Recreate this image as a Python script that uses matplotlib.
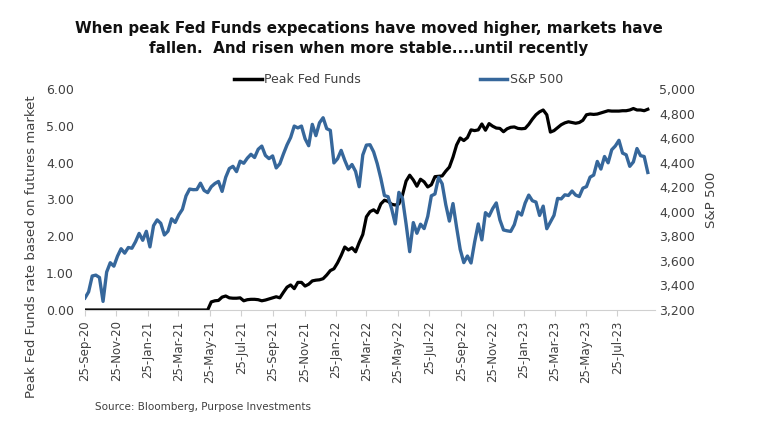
import matplotlib
matplotlib.use("Agg")
import matplotlib.pyplot as plt
import matplotlib.dates as mdates
from matplotlib.lines import Line2D
import pandas as pd

# weekly observations, Fridays starting 25-Sep-2020
start_date = "2020-09-25"

spx = [
    # 2020
    3298, 3348, 3477, 3484, 3465, 3270, 3509, 3585, 3557, 3638, 3699, 3663, 3709, 3703, 3756,
    # 2021
    3824, 3768, 3841, 3714, 3887, 3934, 3906, 3811, 3842, 3943, 3913, 3975, 4020, 4129, 4185,
    4180, 4181, 4233, 4174, 4156, 4204, 4230, 4247, 4166, 4281, 4352, 4370, 4327, 4412, 4395,
    4437, 4468, 4442, 4509, 4535, 4459, 4433, 4455, 4357, 4391, 4471, 4545, 4605, 4698, 4683,
    4698, 4595, 4538, 4712, 4620, 4725, 4766,
    # 2022
    4677, 4663, 4398, 4432, 4500, 4419, 4349, 4385, 4329, 4204, 4463, 4543, 4546, 4488, 4392,
    4272, 4132, 4123, 4024, 3901, 4158, 4109, 3901, 3675, 3912, 3825, 3899, 3863, 3962, 4130,
    4145, 4280, 4228, 4058, 3924, 4067, 3873, 3693, 3586, 3640, 3583, 3753, 3901, 3771, 3993,
    3965, 4026, 4072, 3934, 3852, 3845, 3840,
    # 2023
    3895, 3999, 3973, 4071, 4136, 4090, 4079, 3970, 4046, 3862, 3917, 3971, 4109, 4105, 4138,
    4133, 4169, 4136, 4124, 4192, 4205, 4282, 4299, 4410, 4348, 4450, 4399, 4505, 4536, 4582,
    4478, 4464, 4370, 4406, 4515, 4457, 4450, 4320,
]

peak_ff = [
    0.00, 0.00, 0.00, 0.00, 0.00, 0.00, 0.00, 0.00, 0.00, 0.00,
    0.00, 0.00, 0.00, 0.00, 0.00, 0.00, 0.00, 0.00, 0.00, 0.00,
    0.00, 0.00, 0.00, 0.00, 0.00, 0.00, 0.00, 0.00, 0.00, 0.00,
    0.00, 0.00, 0.00, 0.00, 0.00, 0.22, 0.25, 0.26, 0.35, 0.38,
    0.33, 0.32, 0.32, 0.33, 0.25, 0.28, 0.29, 0.29, 0.28, 0.25,
    0.27, 0.30, 0.33, 0.36, 0.33, 0.48, 0.62, 0.68, 0.58, 0.75,
    0.75, 0.65, 0.70, 0.79, 0.81, 0.82, 0.85, 0.95, 1.07, 1.12,
    1.28, 1.48, 1.71, 1.63, 1.69, 1.58, 1.83, 2.05, 2.53, 2.67,
    2.72, 2.64, 2.88, 2.98, 2.95, 2.87, 2.85, 2.88, 3.12, 3.50,
    3.66, 3.53, 3.36, 3.55, 3.48, 3.34, 3.40, 3.62, 3.63, 3.64,
    3.77, 3.88, 4.15, 4.48, 4.67, 4.60, 4.68, 4.89, 4.87, 4.89,
    5.05, 4.88, 5.06, 4.99, 4.94, 4.93, 4.84, 4.92, 4.96, 4.97,
    4.93, 4.92, 4.93, 5.04, 5.18, 5.30, 5.38, 5.43, 5.30, 4.83,
    4.87, 4.95, 5.03, 5.08, 5.11, 5.09, 5.07, 5.09, 5.15, 5.30,
    5.32, 5.31, 5.32, 5.35, 5.38, 5.41, 5.40, 5.40, 5.40, 5.41,
    5.41, 5.43, 5.47, 5.43, 5.43, 5.41, 5.45,
]

dates = pd.date_range(start_date, periods=len(spx), freq="7D")

left_ticks = [0, 1, 2, 3, 4, 5, 6]
right_ticks = [3200, 3400, 3600, 3800, 4000, 4200, 4400, 4600, 4800, 5000]
# the 25th of every other month, Sep-20 .. Jul-23
xtick_dates = pd.date_range("2020-09-01", "2023-07-01", freq="2MS") + pd.Timedelta(days=24)

title = ("When peak Fed Funds expecations have moved higher, markets have\n"
         "fallen.  And risen when more stable....until recently")

black = "#000000"
blue = "#36679B"
txt = "#404040"

plt.rcParams["font.family"] = ["DejaVu Sans"]

fig = plt.figure(figsize=(7.59, 4.32), dpi=100)
ax = fig.add_axes([0.112, 0.2824, 0.751, 0.5116])
ax2 = ax.twinx()

ax.plot(dates, peak_ff, color=black, linewidth=2.3, solid_joinstyle="round")
ax2.plot(dates, spx, color=blue, linewidth=2.4, solid_joinstyle="round")

ax.set_ylim(0, 6)
ax.set_yticks(left_ticks)
ax.set_yticklabels([f"{v:.2f}" for v in left_ticks])
ax2.set_ylim(3200, 5000)
ax2.set_yticks(right_ticks)
ax2.set_yticklabels([f"{v:,}" for v in right_ticks])

ax.set_xlim(dates[0], dates[-1] + pd.Timedelta(days=14))
ax.set_xticks(xtick_dates)
ax.xaxis.set_major_formatter(mdates.DateFormatter("%d-%b-%y"))
for lbl in ax.get_xticklabels():
    lbl.set_rotation(90)

for a in (ax, ax2):
    for s in ("top", "right", "left", "bottom"):
        a.spines[s].set_visible(False)
ax.spines["bottom"].set_visible(True)
ax.spines["bottom"].set_color("#d0d0d0")
ax.spines["bottom"].set_linewidth(0.8)

ax.tick_params(axis="x", colors="#d0d0d0", labelcolor=txt, labelsize=8.5, length=4, width=0.8)
ax.tick_params(axis="y", length=0, labelcolor=txt, labelsize=9, pad=8)
ax2.tick_params(axis="y", length=0, labelcolor=txt, labelsize=9, pad=3)

ax.set_ylabel("Peak Fed Funds rate based on futures market", color=txt, fontsize=9.5)
ax.yaxis.set_label_coords(-0.082, 0.285)
ax2.set_ylabel("S&P 500", color=txt, fontsize=9.5)
ax2.yaxis.set_label_coords(1.088, 0.5)

fig.text(0.486, 0.911, title, ha="center", va="center", fontsize=10.9,
         fontweight="bold", color="#111111", linespacing=1.4)

handles = [Line2D([], [], color=black, linewidth=2.5),
           Line2D([], [], color=blue, linewidth=2.5)]
fig.legend(handles, ["Peak Fed Funds", "S&P 500"], loc="center", ncol=2,
           bbox_to_anchor=(0.525, 0.815), frameon=False, fontsize=9,
           handlelength=2.2, handletextpad=0.2, columnspacing=9.5,
           labelcolor=txt)

fig.text(0.125, 0.058, "Source: Bloomberg, Purpose Investments", fontsize=7.5,
         color=txt, ha="left", va="center")

fig.savefig("out.png", dpi=100)
